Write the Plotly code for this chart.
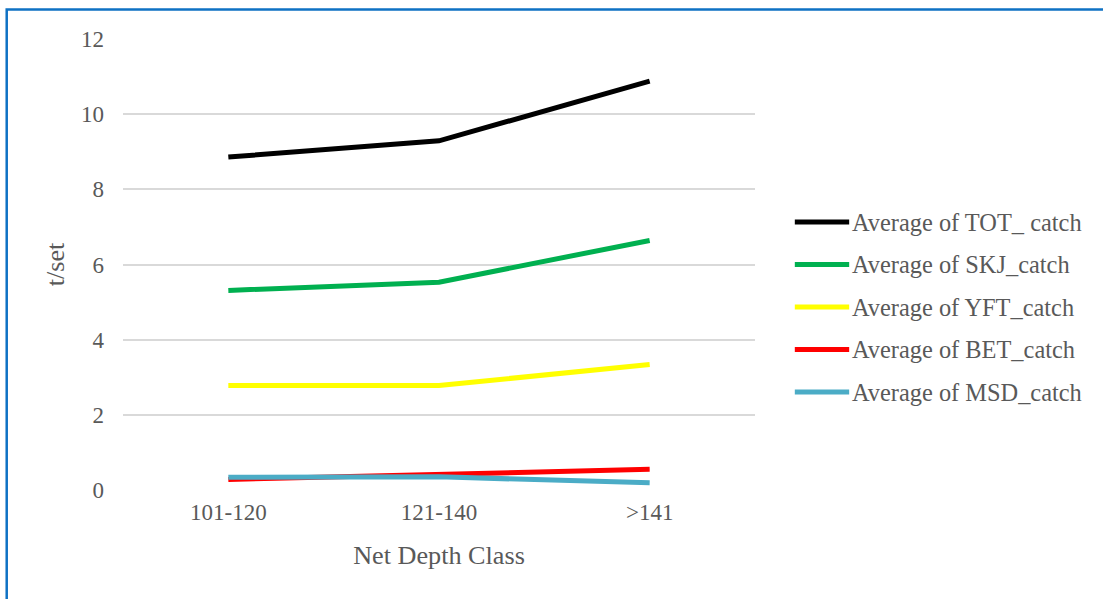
import plotly.graph_objects as go

# Net depth classes on the x axis
depth_classes = ["101-120", "121-140", ">141"]

# Average catch per set (t/set) for each species group
series_names = [
    "Average of TOT_ catch",
    "Average of SKJ_catch",
    "Average of YFT_catch",
    "Average of BET_catch",
    "Average of MSD_catch",
]
tot_catch = [8.86, 9.29, 10.88]
skj_catch = [5.31, 5.53, 6.64]
yft_catch = [2.78, 2.78, 3.34]
bet_catch = [0.28, 0.41, 0.55]
msd_catch = [0.34, 0.35, 0.19]

y_ticks = [0, 2, 4, 6, 8, 10, 12]

series_values = [tot_catch, skj_catch, yft_catch, bet_catch, msd_catch]
series_colors = ["#000000", "#00b050", "#ffff00", "#ff0000", "#4bacc6"]

text_color = "#595959"
font_family = "Liberation Serif, Times New Roman, serif"

fig = go.Figure()
for name, vals, color in zip(series_names, series_values, series_colors):
    fig.add_trace(
        go.Scatter(
            x=depth_classes,
            y=vals,
            name=name,
            mode="lines",
            line=dict(color=color, width=5),
            showlegend=False,
        )
    )

# Legend drawn beside the plot: a line swatch and a label per series
legend_x0, legend_x1 = 1.063, 1.149
legend_top = 0.594
legend_step = 0.0942
for i, (name, color) in enumerate(zip(series_names, series_colors)):
    yy = legend_top - i * legend_step
    fig.add_shape(
        type="line", xref="paper", yref="paper",
        x0=legend_x0, x1=legend_x1, y0=yy, y1=yy,
        line=dict(color=color, width=5),
    )
    fig.add_annotation(
        x=legend_x1 + 0.001, y=yy, xref="paper", yref="paper",
        text=name, showarrow=False, xanchor="left", yanchor="middle",
        font=dict(family=font_family, size=24.4, color=text_color),
    )

# Blue frame around the chart
fig.add_shape(
    type="rect", xref="paper", yref="paper",
    x0=-0.184, x1=1.8, y0=-0.5, y1=1.0655,
    line=dict(color="#0f72c4", width=2.5),
    fillcolor="rgba(0,0,0,0)", layer="below",
)

fig.update_layout(
    width=1103,
    height=599,
    margin=dict(l=123, r=348, t=39, b=109),
    paper_bgcolor="white",
    plot_bgcolor="white",
    font=dict(family=font_family, color=text_color, size=23),
    xaxis=dict(
        type="category",
        range=[-0.5, 2.5],
        showgrid=False,
        showline=False,
        zeroline=False,
        ticks="",
        tickfont=dict(size=23, color=text_color),
        ticklabelstandoff=6,
        title=dict(text="Net Depth Class", font=dict(size=26.2, color=text_color), standoff=21),
    ),
    yaxis=dict(
        range=[0, 12],
        tickvals=y_ticks,
        showgrid=True,
        gridcolor="#d9d9d9",
        gridwidth=1.5,
        zeroline=False,
        showline=False,
        ticks="",
        tickfont=dict(size=23, color=text_color),
        ticklabelstandoff=18,
        title=dict(text="t/set", font=dict(size=26, color=text_color), standoff=8),
    ),
)

fig.write_html("out.html")
